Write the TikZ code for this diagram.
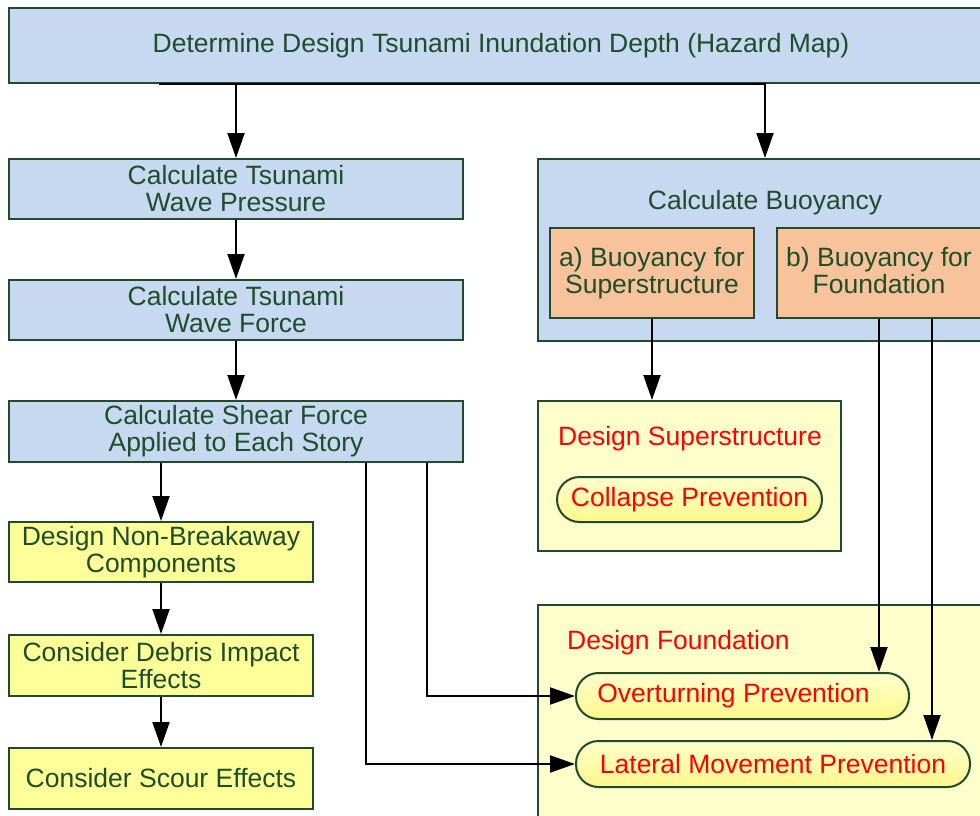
\documentclass[tikz,border=0pt]{standalone}
\usepackage{fontspec}
\setmainfont{Liberation Sans}
\usetikzlibrary{arrows.meta,calc}
\definecolor{bluef}{HTML}{C6D9F0}
\definecolor{edge}{HTML}{1F4A2C}
\definecolor{txt}{HTML}{1E4D2B}
\definecolor{orangef}{HTML}{F8C39B}
\definecolor{yelf}{HTML}{FFFF99}
\definecolor{paley}{HTML}{FFFFCC}
\definecolor{redt}{HTML}{FF0000}
\begin{document}
\begin{tikzpicture}[x=1pt,y=-1pt,
  font=\fontsize{26.5}{27}\selectfont,
  base/.style={draw=edge, line width=2pt, align=center, inner sep=0pt},
  blueb/.style={base, fill=bluef, text=txt},
  orangeb/.style={base, fill=orangef, text=txt},
  yelb/.style={base, fill=yelf, text=txt},
  paleb/.style={base, fill=paley},
  pill/.style={base, text=redt, rounded corners=22.5pt,
    top color={rgb,255:red,255;green,255;blue,205}, bottom color={rgb,255:red,255;green,247;blue,140}},
  ttl/.style={inner sep=0pt},
  arr/.style={line width=2pt, -{Triangle[length=25pt,width=17pt]}}]
\useasboundingbox (0,0) rectangle (980,816);
\clip (0,0) rectangle (980,816);
\fill[white] (0,0) rectangle (980,816);

% top
\node[blueb, minimum width=984, minimum height=75] (top) at (501,45.5)
  {Determine Design Tsunami Inundation Depth (Hazard Map)};

% left column
\node[blueb, minimum width=454, minimum height=60] (p1) at (236,189) {Calculate Tsunami\\Wave Pressure};
\node[blueb, minimum width=454, minimum height=60] (p2) at (236,310) {Calculate Tsunami\\Wave Force};
\node[blueb, minimum width=454, minimum height=61] (p3) at (236,431.5) {Calculate Shear Force\\Applied to Each Story};

\node[yelb, minimum width=304, minimum height=60] (y1) at (161,552) {Design Non-Breakaway\\Components};
\node[yelb, minimum width=304, minimum height=61] (y2) at (161,665.5) {Consider Debris Impact\\Effects};
\node[yelb, minimum width=304, minimum height=61] (y3) at (161,778.5) {Consider Scour Effects};

% buoyancy
\node[blueb, minimum width=454, minimum height=182] (buoy) at (765,250) {};
\node[ttl, text=txt] (buoyt) at (765,203) {Calculate Buoyancy};
\node[orangeb, minimum width=204, minimum height=90] (ba) at (652,273) {a) Buoyancy for\\Superstructure};
\node[orangeb, minimum width=204, minimum height=90] (bb) at (879,273) {b) Buoyancy for\\Foundation\vphantom{p}};

% design superstructure
\node[paleb, minimum width=303, minimum height=150] (dsup) at (689.5,476) {};
\node[ttl, text=redt] (dsupt) at (690,438.5) {Design Superstructure};
\node[pill, minimum width=265, minimum height=45] (coll) at (689.5,499.5) {Collapse Prevention};

% design foundation
\node[paleb, minimum width=472, minimum height=295] (dfound) at (774,752.5) {};
\node[ttl, text=redt, anchor=west] (dfoundt) at (567,642.5) {Design Foundation};
\node[pill, minimum width=333, minimum height=46] (over) at (742.5,696) {Overturning Prevention\hspace*{18pt}};
\node[pill, minimum width=394, minimum height=46] (lat) at (773,764) {Lateral Movement Prevention};

% connectors
\coordinate (tsplit) at ($(top.south west)+(151,0)$);
\draw[arr] (top.south -| p1.north) -- (p1.north);
\draw[arr] (tsplit) -- (top.south -| buoy.north) -- (buoy.north);
\draw[arr] (p1) -- (p2);
\draw[arr] (p2) -- (p3);
\draw[arr] (p3.south -| y1.north) -- (y1.north);
\draw[arr] (y1) -- (y2);
\draw[arr] (y2) -- (y3);
\draw[arr] (ba.south) -- (ba.south |- dsup.north);
\coordinate (p3a) at ($(p3.south east)+(-37,0)$);
\coordinate (p3b) at ($(p3.south east)+(-98,0)$);
\draw[arr] (p3a) |- (over.west);
\draw[arr] (p3b) |- (lat.west);
\draw[arr] (bb.south) -- (bb.south |- over.north);
\coordinate (bbr) at ($(bb.south)+(53,0)$);
\draw[arr] (bbr) -- (bbr |- lat.north);
\end{tikzpicture}
\end{document}
